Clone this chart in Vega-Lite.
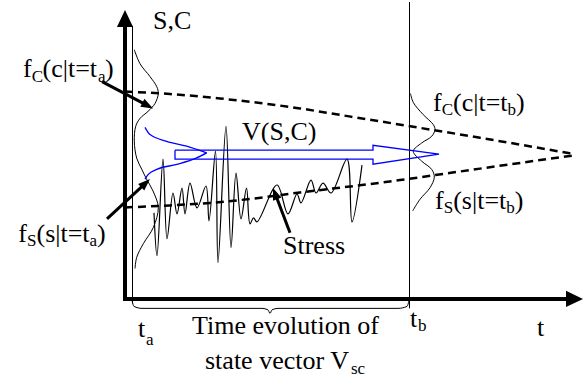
{
  "$schema": "https://vega.github.io/schema/vega-lite/v6.json",
  "width": 583,
  "height": 378,
  "autosize": {"type": "fit", "contains": "padding"},
  "padding": 0,
  "background": "white",
  "view": {"stroke": null},
  "datasets": {
    "ax": [
      {"id": "v", "x": 125, "y": 300}, {"id": "v", "x": 125, "y": 22},
      {"id": "h", "x": 123, "y": 298.5}, {"id": "h", "x": 568, "y": 298.5}
    ],
    "thin": [
      {"id": "ta", "x": 132.5, "y": 24}, {"id": "ta", "x": 132.5, "y": 303},
      {"id": "tb", "x": 409.5, "y": 0}, {"id": "tb", "x": 409.5, "y": 308}
    ],
    "arr": [
      {"id": "fc", "x": 102, "y": 80}, {"id": "fc", "x": 147.7, "y": 104.2},
      {"id": "fs", "x": 107, "y": 218}, {"id": "fs", "x": 145.6, "y": 182.1},
      {"id": "st", "x": 290, "y": 232}, {"id": "st", "x": 275.1, "y": 192.6}
    ],
    "bigheads": [
      {"x": 125, "y": 16.5, "a": 0},
      {"x": 574.5, "y": 298.5, "a": 90}
    ],
    "heads": [
      {"x": 147.7, "y": 104.2, "a": 117.9},
      {"x": 145.6, "y": 182.1, "a": 47.1},
      {"x": 275.1, "y": 192.6, "a": 339.3}
    ],
    "dash": [
      {"id": "c", "x": 125, "y": 90}, {"id": "c", "x": 170, "y": 92.5}, {"id": "c", "x": 220, "y": 97},
      {"id": "c", "x": 260, "y": 101.5}, {"id": "c", "x": 300, "y": 107}, {"id": "c", "x": 340, "y": 113.5},
      {"id": "c", "x": 380, "y": 120}, {"id": "c", "x": 480, "y": 136.5}, {"id": "c", "x": 575, "y": 153},
      {"id": "s", "x": 125, "y": 206.5}, {"id": "s", "x": 170, "y": 204.5}, {"id": "s", "x": 210, "y": 202},
      {"id": "s", "x": 250, "y": 198}, {"id": "s", "x": 300, "y": 191.5}, {"id": "s", "x": 370, "y": 183},
      {"id": "s", "x": 400, "y": 179}, {"id": "s", "x": 480, "y": 167.5}, {"id": "s", "x": 575, "y": 154}
    ],
    "dens": [
      {"id": "a", "o": 1, "x": 134.3, "y": 48}, {"id": "a", "o": 2, "x": 140, "y": 62},
      {"id": "a", "o": 3, "x": 150, "y": 75}, {"id": "a", "o": 4, "x": 156.7, "y": 85},
      {"id": "a", "o": 5, "x": 158.3, "y": 92}, {"id": "a", "o": 6, "x": 155, "y": 102},
      {"id": "a", "o": 7, "x": 148, "y": 110}, {"id": "a", "o": 8, "x": 140, "y": 117},
      {"id": "a", "o": 9, "x": 135.7, "y": 125}, {"id": "a", "o": 10, "x": 134.3, "y": 140},
      {"id": "a", "o": 11, "x": 136.7, "y": 157}, {"id": "a", "o": 12, "x": 141.7, "y": 168},
      {"id": "a", "o": 13, "x": 146.5, "y": 178}, {"id": "a", "o": 14, "x": 153, "y": 190},
      {"id": "a", "o": 15, "x": 158.3, "y": 206.7}, {"id": "a", "o": 16, "x": 153.3, "y": 226.7},
      {"id": "a", "o": 17, "x": 143.3, "y": 243}, {"id": "a", "o": 18, "x": 136.7, "y": 256.7},
      {"id": "a", "o": 19, "x": 135, "y": 268},
      {"id": "b", "o": 1, "x": 410.5, "y": 92}, {"id": "b", "o": 2, "x": 413.3, "y": 101},
      {"id": "b", "o": 3, "x": 423.3, "y": 113.3}, {"id": "b", "o": 4, "x": 433.3, "y": 123.3},
      {"id": "b", "o": 5, "x": 435, "y": 128.3}, {"id": "b", "o": 6, "x": 431.7, "y": 135},
      {"id": "b", "o": 7, "x": 421.7, "y": 141.7}, {"id": "b", "o": 8, "x": 413.3, "y": 150},
      {"id": "b", "o": 9, "x": 421.7, "y": 160}, {"id": "b", "o": 10, "x": 431.7, "y": 168.3},
      {"id": "b", "o": 11, "x": 434.3, "y": 176}, {"id": "b", "o": 12, "x": 430, "y": 186.7},
      {"id": "b", "o": 13, "x": 420, "y": 198.3}, {"id": "b", "o": 14, "x": 412.7, "y": 210}
    ],
    "bluec": [
      {"id": "u", "x": 145, "y": 126}, {"id": "u", "x": 150, "y": 133.3}, {"id": "u", "x": 166.7, "y": 140},
      {"id": "u", "x": 186.7, "y": 145}, {"id": "u", "x": 206.7, "y": 151.7},
      {"id": "l", "x": 145, "y": 178}, {"id": "l", "x": 148.3, "y": 173.3}, {"id": "l", "x": 156.7, "y": 168.3},
      {"id": "l", "x": 176.7, "y": 163.3}, {"id": "l", "x": 196.7, "y": 156.7}, {"id": "l", "x": 206.7, "y": 151.7}
    ],
    "bluearr": [
      {"o": 1, "x": 175, "y": 149}, {"o": 2, "x": 373, "y": 149}, {"o": 3, "x": 373, "y": 144},
      {"o": 4, "x": 439, "y": 153}, {"o": 5, "x": 373, "y": 163}, {"o": 6, "x": 373, "y": 158},
      {"o": 7, "x": 175, "y": 158}, {"o": 8, "x": 175, "y": 149}
    ],
    "stress": [
      {"x": 154, "y": 212}, {"x": 157, "y": 255}, {"x": 163, "y": 158}, {"x": 167, "y": 238},
      {"x": 173, "y": 192}, {"x": 177, "y": 213}, {"x": 182, "y": 187}, {"x": 185, "y": 213},
      {"x": 190, "y": 182}, {"x": 197, "y": 207}, {"x": 206, "y": 185}, {"x": 209, "y": 220},
      {"x": 215.5, "y": 150}, {"x": 218, "y": 262}, {"x": 226, "y": 125}, {"x": 231, "y": 247},
      {"x": 236, "y": 172}, {"x": 241, "y": 218}, {"x": 246.5, "y": 187}, {"x": 250, "y": 223},
      {"x": 253.5, "y": 217}, {"x": 257, "y": 221}, {"x": 277, "y": 184}, {"x": 288, "y": 213},
      {"x": 297, "y": 193}, {"x": 301, "y": 202}, {"x": 311, "y": 179}, {"x": 316, "y": 192},
      {"x": 323, "y": 182}, {"x": 331, "y": 192}, {"x": 347, "y": 158}, {"x": 352, "y": 221},
      {"x": 362, "y": 164}
    ],
    "brace": [
      {"x": 132, "y": 300}, {"x": 134, "y": 306}, {"x": 142, "y": 308}, {"x": 262, "y": 308},
      {"x": 268, "y": 309.5}, {"x": 270, "y": 313}, {"x": 272, "y": 309.5}, {"x": 278, "y": 308},
      {"x": 398, "y": 308}, {"x": 407, "y": 306}, {"x": 409, "y": 300}
    ],
    "txt": [
      {"t": "S,C", "x": 153, "y": 27},
      {"t": "f", "x": 23, "y": 75}, {"t": "(c|t=t", "x": 42.5, "y": 75}, {"t": ")", "x": 105, "y": 75},
      {"t": "f", "x": 18.3, "y": 241.7}, {"t": "(s|t=t", "x": 36.5, "y": 241.7}, {"t": ")", "x": 97.1, "y": 241.7},
      {"t": "f", "x": 433, "y": 110}, {"t": "(c|t=t", "x": 453, "y": 110}, {"t": ")", "x": 516, "y": 110},
      {"t": "f", "x": 435, "y": 208.3}, {"t": "(s|t=t", "x": 453.2, "y": 208.3}, {"t": ")", "x": 514.8, "y": 208.3},
      {"t": "V(S,C)", "x": 242, "y": 139},
      {"t": "Stress", "x": 283, "y": 253},
      {"t": "t", "x": 138, "y": 337},
      {"t": "Time evolution of", "x": 192, "y": 334},
      {"t": "state vector V", "x": 205, "y": 369},
      {"t": "t", "x": 410, "y": 327},
      {"t": "t", "x": 537, "y": 336}
    ],
    "sub": [
      {"t": "C", "x": 31.7, "y": 80}, {"t": "a", "x": 98, "y": 80},
      {"t": "S", "x": 27, "y": 245}, {"t": "a", "x": 89.6, "y": 245},
      {"t": "C", "x": 441.7, "y": 114}, {"t": "b", "x": 507.5, "y": 114},
      {"t": "S", "x": 443.7, "y": 212}, {"t": "b", "x": 506.3, "y": 212},
      {"t": "a", "x": 146, "y": 345},
      {"t": "sc", "x": 351, "y": 374},
      {"t": "b", "x": 418, "y": 331}
    ]
  },
  "encoding": {
    "x": {"field": "x", "type": "quantitative", "scale": {"domain": [0, 583], "nice": false, "zero": false}, "axis": null},
    "y": {"field": "y", "type": "quantitative", "scale": {"domain": [0, 378], "reverse": true, "nice": false, "zero": false}, "axis": null}
  },
  "layer": [
    {
      "data": {"name": "dash"},
      "mark": {"type": "line", "color": "black", "strokeWidth": 2.5, "strokeDash": [8, 5], "interpolate": "monotone"},
      "encoding": {"detail": {"field": "id"}}
    },
    {
      "data": {"name": "thin"},
      "mark": {"type": "line", "color": "black", "strokeWidth": 1},
      "encoding": {"detail": {"field": "id"}}
    },
    {
      "data": {"name": "dens"},
      "mark": {"type": "line", "color": "black", "strokeWidth": 1, "interpolate": "catmull-rom"},
      "encoding": {"detail": {"field": "id"}, "order": {"field": "o", "type": "quantitative"}}
    },
    {
      "data": {"name": "stress"},
      "mark": {"type": "line", "color": "black", "strokeWidth": 1.2, "interpolate": "catmull-rom"},
      "encoding": {}
    },
    {
      "data": {"name": "bluec"},
      "mark": {"type": "line", "color": "#0000ff", "strokeWidth": 1.3, "interpolate": "monotone"},
      "encoding": {"detail": {"field": "id"}}
    },
    {
      "data": {"name": "bluearr"},
      "mark": {"type": "line", "color": "#0000ff", "strokeWidth": 1.3},
      "encoding": {"order": {"field": "o", "type": "quantitative"}}
    },
    {
      "data": {"name": "brace"},
      "mark": {"type": "line", "color": "black", "strokeWidth": 1, "interpolate": "monotone"},
      "encoding": {}
    },
    {
      "data": {"name": "ax"},
      "mark": {"type": "line", "color": "black", "strokeWidth": 4},
      "encoding": {"detail": {"field": "id"}}
    },
    {
      "data": {"name": "arr"},
      "mark": {"type": "line", "color": "black", "strokeWidth": 3},
      "encoding": {"detail": {"field": "id"}}
    },
    {
      "data": {"name": "bigheads"},
      "mark": {"type": "point", "filled": true, "color": "black", "opacity": 1, "shape": "M0,-1L0.95,1L-0.95,1Z", "size": 289, "strokeWidth": 0},
      "encoding": {"angle": {"field": "a", "type": "quantitative", "scale": null}}
    },
    {
      "data": {"name": "heads"},
      "mark": {"type": "point", "filled": true, "color": "black", "opacity": 1, "shape": "M0,-1L0.75,1L-0.75,1Z", "size": 144, "strokeWidth": 0},
      "encoding": {"angle": {"field": "a", "type": "quantitative", "scale": null}}
    },
    {
      "data": {"name": "txt"},
      "mark": {"type": "text", "font": "Liberation Serif", "fontSize": 26, "align": "left", "baseline": "alphabetic", "color": "black"},
      "encoding": {"text": {"field": "t"}}
    },
    {
      "data": {"name": "sub"},
      "mark": {"type": "text", "font": "Liberation Serif", "fontSize": 17, "align": "left", "baseline": "alphabetic", "color": "black"},
      "encoding": {"text": {"field": "t"}}
    }
  ]
}
